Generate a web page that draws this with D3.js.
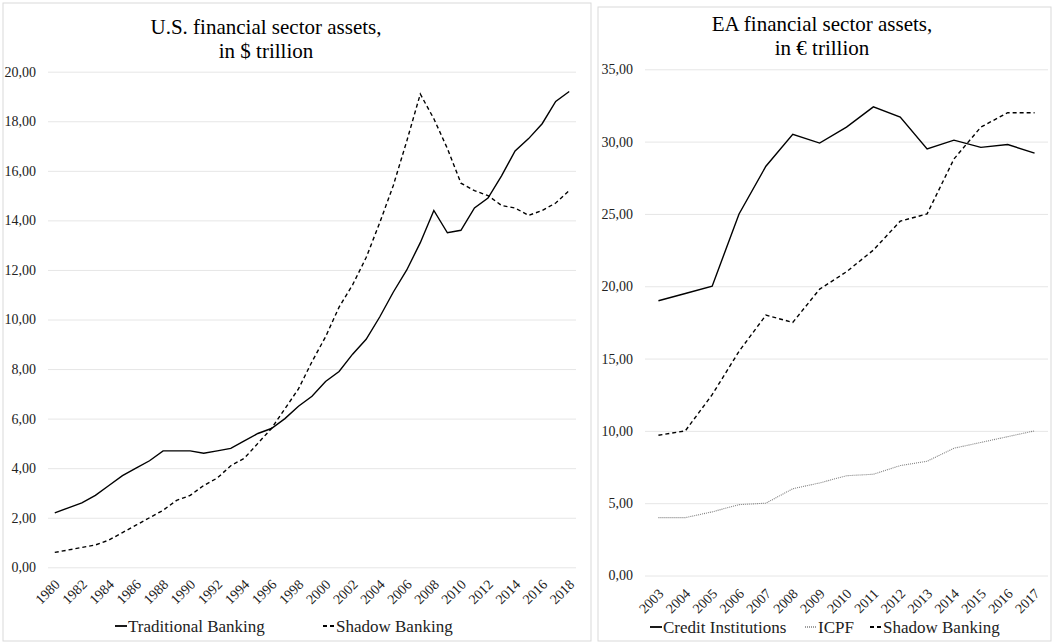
<!DOCTYPE html>
<html>
<head>
<meta charset="utf-8">
<script src="https://cdn.jsdelivr.net/npm/d3@7.9.0/dist/d3.min.js"></script>
<style>
  body { margin: 0; background: #fff; }
  svg, svg text { font-family: "Liberation Serif", "Times New Roman", serif; }
</style>
</head>
<body>
<svg id="chart" width="1053" height="644"></svg>
<script>
// U.S. panel data
const usYears = d3.range(1980, 2019);
const usTraditional = [2.2, 2.4, 2.6, 2.9, 3.3, 3.7, 4.0, 4.3, 4.7, 4.7, 4.7, 4.6, 4.7, 4.8, 5.1, 5.4, 5.6, 6.0, 6.5, 6.9,
  7.5, 7.9, 8.6, 9.2, 10.1, 11.1, 12.0, 13.1, 14.4, 13.5, 13.6, 14.5, 14.9, 15.8, 16.8, 17.3, 17.9, 18.8, 19.2];
const usShadow = [0.6, 0.7, 0.8, 0.9, 1.1, 1.4, 1.7, 2.0, 2.3, 2.7, 2.9, 3.3, 3.6, 4.1, 4.4, 5.0, 5.6, 6.4, 7.2, 8.3,
  9.3, 10.5, 11.4, 12.5, 13.9, 15.4, 17.2, 19.1, 18.1, 16.9, 15.5, 15.2, 15.0, 14.6, 14.5, 14.2, 14.4, 14.7, 15.2];
const usTicks = [0, 2, 4, 6, 8, 10, 12, 14, 16, 18, 20];

// Euro area panel data
const eaYears = d3.range(2003, 2018);
const eaCredit = [19.0, 19.5, 20.0, 25.0, 28.3, 30.5, 29.9, 31.0, 32.4, 31.7, 29.5, 30.1, 29.6, 29.8, 29.2];
const eaICPF = [4.0, 4.0, 4.4, 4.9, 5.0, 6.0, 6.4, 6.9, 7.0, 7.6, 7.9, 8.8, 9.2, 9.6, 10.0];
const eaShadow = [9.7, 10.0, 12.5, 15.5, 18.0, 17.5, 19.8, 21.0, 22.5, 24.5, 25.0, 28.8, 31.0, 32.0, 32.0];
const eaTicks = [0, 5, 10, 15, 20, 25, 30, 35];

const styles = {
  solid: { stroke: "#000", dash: null, width: 1.4 },
  dashed: { stroke: "#000", dash: "4,3", width: 1.4 },
  dotted: { stroke: "#7f7f7f", dash: "1,1", width: 1.1 }
};

const fmt = v => d3.format(".2f")(v).replace(".", ",");
const svg = d3.select("#chart");

function drawPanel(cfg) {
  const g = svg.append("g");
  g.append("rect")
    .attr("x", cfg.box[0]).attr("y", cfg.box[1])
    .attr("width", cfg.box[2]).attr("height", cfg.box[3])
    .attr("fill", "#fff").attr("stroke", "#d9d9d9");

  cfg.title.forEach((t, i) => {
    g.append("text")
      .attr("x", cfg.titleX).attr("y", cfg.titleY + i * 24)
      .attr("text-anchor", "middle")
      .attr("font-size", 21)
      .text(t);
  });

  const x = d3.scaleBand().domain(cfg.years).range(cfg.xRange);
  const y = d3.scaleLinear().domain(cfg.yDomain).range(cfg.yRange);
  const cx = d => x(d) + x.bandwidth() / 2;

  // gridlines + y labels
  const yAxis = d3.axisLeft(y).tickValues(cfg.ticks).tickFormat(fmt)
    .tickSize(-(cfg.xRange[1] - cfg.xRange[0])).tickPadding(12);
  const ya = g.append("g").attr("transform", `translate(${cfg.xRange[0]},0)`).call(yAxis)
    .attr("font-family", null).attr("font-size", null);
  ya.select(".domain").remove();
  ya.selectAll("line").attr("stroke", "#e6e6e6");
  ya.selectAll("text").attr("font-size", 14).attr("fill", "#222");

  // x labels, rotated
  g.selectAll(".xl").data(cfg.years.filter((d, i) => i % cfg.every === 0))
    .join("text")
    .attr("class", "xl")
    .attr("font-size", 14).attr("fill", "#222")
    .attr("text-anchor", "end")
    .attr("transform", d => `translate(${cx(d) + 6},${cfg.yRange[0] + cfg.xlOff}) rotate(-45)`)
    .text(d => d);

  const line = d3.line().x((d, i) => cx(cfg.years[i])).y(d => y(d));
  cfg.series.forEach(s => {
    const st = styles[s.style];
    g.append("path")
      .datum(s.values)
      .attr("d", line)
      .attr("fill", "none")
      .attr("stroke", st.stroke)
      .attr("stroke-width", st.width)
      .attr("stroke-dasharray", st.dash);
  });

  // legend
  cfg.series.forEach((s, i) => {
    const st = styles[s.style];
    const lx = cfg.legendX[i];
    g.append("line")
      .attr("x1", lx).attr("x2", lx + 12)
      .attr("y1", cfg.legendY - 6).attr("y2", cfg.legendY - 6)
      .attr("stroke", st.stroke).attr("stroke-width", st.width + 0.4)
      .attr("stroke-dasharray", st.dash);
    g.append("text")
      .attr("x", lx + 13).attr("y", cfg.legendY)
      .attr("font-size", 17).attr("fill", "#222")
      .text(s.name);
  });
}

drawPanel({
  box: [3, 3, 588, 638],
  title: ["U.S. financial sector assets,", "in $ trillion"],
  titleX: 266, titleY: 34,
  years: usYears, every: 2,
  xRange: [48, 576], yRange: [567.3, 71.7], yDomain: [0, 20], ticks: usTicks,
  xlOff: 18,
  series: [
    { name: "Traditional Banking", values: usTraditional, style: "solid" },
    { name: "Shadow Banking", values: usShadow, style: "dashed" }
  ],
  legendX: [115, 323], legendY: 632
});

drawPanel({
  box: [598, 7, 453, 634],
  title: ["EA financial sector assets,", "in \u20ac trillion"],
  titleX: 822, titleY: 31,
  years: eaYears, every: 1,
  xRange: [645, 1048], yRange: [575.5, 69.3], yDomain: [0, 35], ticks: eaTicks,
  xlOff: 19,
  series: [
    { name: "Credit Institutions", values: eaCredit, style: "solid" },
    { name: "ICPF", values: eaICPF, style: "dotted" },
    { name: "Shadow Banking", values: eaShadow, style: "dashed" }
  ],
  legendX: [650, 805, 870], legendY: 633
});
</script>
</body>
</html>
